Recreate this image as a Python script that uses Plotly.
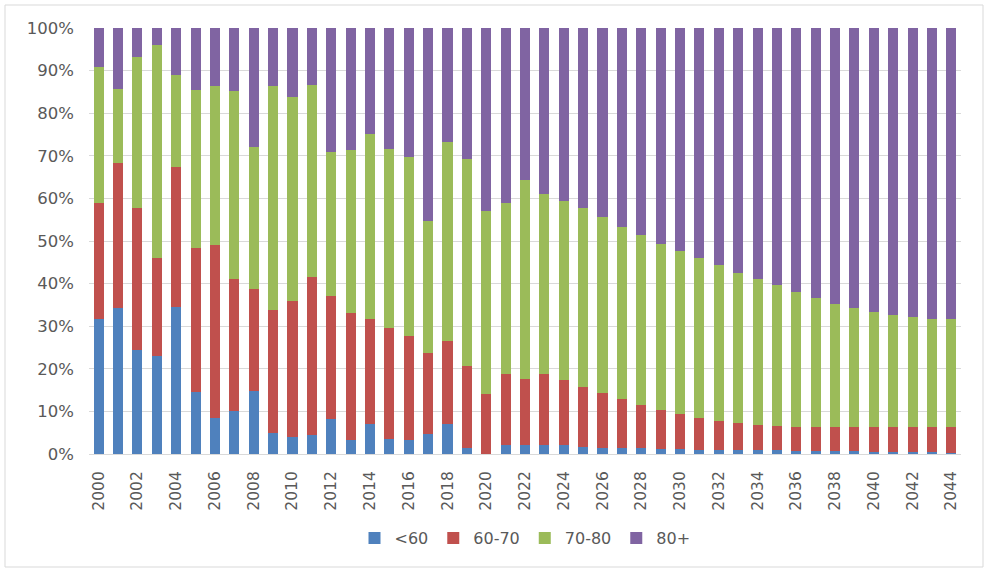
import plotly.graph_objects as go

years = list(range(2000, 2045))

# share of each age group (%)
under60 = [31.8, 34.3, 24.4, 23.1, 34.5, 14.5, 8.4, 10.2, 14.7, 5.0,
           3.9, 4.4, 8.1, 3.4, 7.1, 3.5, 3.4, 4.8, 7.1, 1.5,
           0.0, 2.1, 2.1, 2.1, 2.0, 1.7, 1.5, 1.4, 1.3, 1.2,
           1.1, 1.0, 1.0, 0.9, 0.9, 0.9, 0.8, 0.7, 0.7, 0.6,
           0.5, 0.5, 0.4, 0.4, 0.3]
age60_70 = [27.1, 34.1, 33.4, 23.0, 32.8, 33.9, 40.7, 30.9, 24.0, 28.8,
            32.0, 37.2, 29.1, 29.8, 24.6, 26.1, 24.3, 18.9, 19.5, 19.1,
            14.1, 16.6, 15.5, 16.7, 15.3, 14.0, 12.8, 11.5, 10.3, 9.2,
            8.3, 7.5, 6.7, 6.3, 5.9, 5.6, 5.5, 5.6, 5.6, 5.7,
            5.8, 5.8, 5.9, 5.9, 6.0]
age70_80 = [31.9, 17.3, 35.5, 50.0, 21.6, 37.0, 37.3, 44.1, 33.4, 52.6,
            48.0, 45.0, 33.7, 38.2, 43.5, 42.0, 42.0, 31.0, 46.6, 48.7,
            43.0, 40.2, 46.8, 42.2, 42.1, 42.0, 41.3, 40.4, 39.7, 39.0,
            38.2, 37.4, 36.6, 35.4, 34.2, 33.1, 31.7, 30.3, 29.0, 28.0,
            27.1, 26.4, 25.9, 25.5, 25.3]
age80plus = [9.2, 14.3, 6.7, 3.9, 11.1, 14.6, 13.6, 14.8, 27.9, 13.6,
             16.1, 13.4, 29.1, 28.6, 24.8, 28.4, 30.3, 45.3, 26.8, 30.7,
             42.9, 41.1, 35.6, 39.0, 40.6, 42.3, 44.4, 46.7, 48.7, 50.6,
             52.4, 54.1, 55.7, 57.4, 59.0, 60.4, 62.0, 63.4, 64.7, 65.7,
             66.6, 67.3, 67.8, 68.2, 68.4]

series_names = ["<60", "60-70", "70-80", "80+"]
series_values = [under60, age60_70, age70_80, age80plus]
colors = ["#4F81BD", "#C0504D", "#9BBB59", "#8064A2"]

y_ticks = list(range(0, 101, 10))
x_ticks = years[::2]

FONT = "DejaVu Sans"
TXT = "#595959"

fig = go.Figure()
for name, vals, col in zip(series_names, series_values, colors):
    fig.add_trace(go.Bar(x=years, y=vals, name=name,
                         marker=dict(color=col, line=dict(width=0))))

# plot area: x 89..961, y 28..454 in a 987x570 page
L, R, T, B = 89, 961, 28, 454
W, H = 987, 570
pw, ph = R - L, B - T

def px(x):
    return (x - L) / pw

def py(y):
    return (B - y) / ph

fig.update_layout(
    width=W, height=H,
    margin=dict(l=L, r=W - R, t=T, b=H - B, autoexpand=False),
    barmode="stack",
    bargap=0.48,
    paper_bgcolor="white",
    plot_bgcolor="white",
    font=dict(family=FONT, color=TXT, size=16),
    showlegend=True,
    legend=dict(orientation="h", x=0.5, xanchor="center",
                y=py(538), yanchor="middle",
                font=dict(family=FONT, size=16, color=TXT),
                traceorder="normal", itemclick=False),
    xaxis=dict(range=[1999.5, 2044.5], tickmode="array",
               tickvals=x_ticks, ticktext=[str(v) for v in x_ticks],
               tickangle=-90, tickfont=dict(family=FONT, size=15.5, color=TXT),
               showgrid=False, zeroline=False, showline=True,
               linecolor="#D9D9D9", linewidth=1, ticks="",
               ticklabelstandoff=10),
    yaxis=dict(range=[0, 100], tickmode="array", tickvals=y_ticks,
               ticktext=[f"{v}%" for v in y_ticks],
               tickfont=dict(family=FONT, size=16.5, color=TXT),
               showgrid=True, gridcolor="#D9D9D9", gridwidth=1,
               zeroline=False, showline=False, ticks="",
               ticklabelstandoff=14),
    shapes=[dict(type="rect", xref="paper", yref="paper",
                 x0=px(5), x1=px(983), y0=py(567), y1=py(5),
                 line=dict(color="#D9D9D9", width=1), layer="below")],
)

fig.write_html("out.html",
               config={"displayModeBar": False},
               post_script="document.body.style.margin='0';document.body.style.overflow='hidden';")
